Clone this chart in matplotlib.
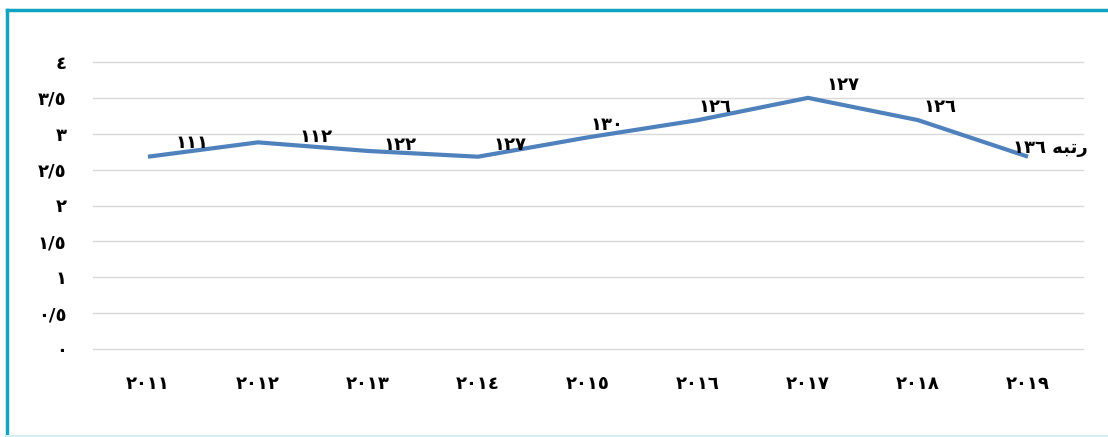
import matplotlib.pyplot as plt
from matplotlib.lines import Line2D

plt.rcParams['font.family'] = ['DejaVu Sans']

# data
years = ['٢٠١١', '٢٠١٢', '٢٠١٣', '٢٠١٤', '٢٠١٥', '٢٠١٦', '٢٠١٧', '٢٠١٨', '٢٠١٩']
values = [2.68, 2.88, 2.76, 2.68, 2.95, 3.19, 3.50, 3.19, 2.68]
ranks = ['١١١', '١١٢', '١٢٢', '١٢٧', '١٣٠', '١٢٦', '١٢٧', '١٢٦', '١٣٦']
series_name = '\uFEEA\uFE92\uFE97\uFEAD'  # "rotbe", presentation forms in visual order
yticks = [0, 0.5, 1, 1.5, 2, 2.5, 3, 3.5, 4]
ytick_labels = ['٠', '٠/٥', '١', '١/٥', '٢', '٢/٥', '٣', '٣/٥', '٤']

# label offsets in pixels (layout only)
label_dx = [44, 58, 32, 32, 19, 17, 35, 22, 22]
label_dy = [14, 5, 6, 12, 12, 13, 13, 13, 9]

fig = plt.figure(figsize=(11.08, 4.37), dpi=100)
ax = fig.add_axes([93 / 1108, 88 / 437, 990 / 1108, 287 / 437])

x = list(range(len(years)))
ax.plot(x, values, color='#4f81bd', lw=3, solid_capstyle='butt', zorder=3)

for i, (v, r) in enumerate(zip(values, ranks)):
	txt = r
	if i == len(ranks) - 1:
		txt = r + ' ' + series_name
	ax.annotate(txt, (i, v), xytext=(label_dx[i], label_dy[i]), textcoords='offset pixels',
		ha='center', va='center', fontsize=13, fontweight='bold', zorder=4)

ax.set_xlim(-0.5, len(years) - 0.5)
ax.set_ylim(0, 4)
ax.set_yticks(yticks)
ax.set_yticklabels(ytick_labels, fontsize=13, fontweight='bold')
ax.set_xticks(x)
ax.set_xticklabels(years, fontsize=13, fontweight='bold')
ax.tick_params(axis='both', length=0)
ax.tick_params(axis='y', pad=19)
ax.tick_params(axis='x', pad=19)
ax.grid(axis='y', color='#d9d9d9', lw=1)
for gl in ax.get_ygridlines():
	gl.set_clip_on(False)
ax.set_axisbelow(True)
for s in ax.spines.values():
	s.set_visible(False)

# frame around the chart
fig.add_artist(Line2D([7 / 1108, 7 / 1108], [0, 1 - 10 / 437], color='#12a3c0', lw=2.5, transform=fig.transFigure))
fig.add_artist(Line2D([7 / 1108, 1], [1 - 10 / 437, 1 - 10 / 437], color='#12a3c0', lw=2.5, transform=fig.transFigure))
fig.add_artist(Line2D([7 / 1108, 1], [1.5 / 437, 1.5 / 437], color='#d4eef4', lw=1.5, transform=fig.transFigure))

fig.savefig('out.png', dpi=100)
